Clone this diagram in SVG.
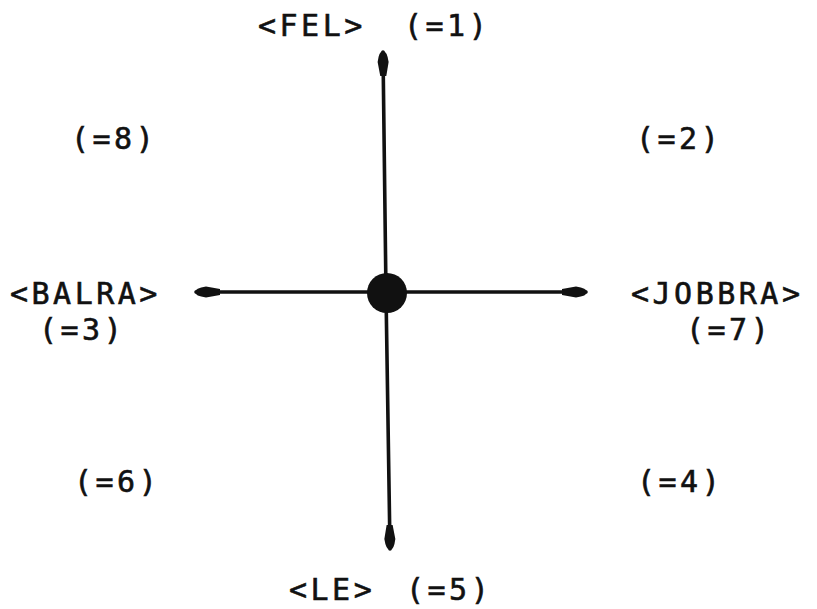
<svg xmlns="http://www.w3.org/2000/svg" width="817" height="609" viewBox="0 0 817 609">
<style>
text{font-family:"DejaVu Sans Mono","Liberation Mono",monospace;font-size:30px;fill:#111;stroke:#111;stroke-width:0.6;letter-spacing:3.5px}
.ax{stroke:#111;stroke-width:3.6;fill:none;stroke-linecap:round}
</style>
<defs>
<marker id="ah" viewBox="0 0 26 14" refX="24" refY="7" markerWidth="26" markerHeight="14" markerUnits="userSpaceOnUse" orient="auto">
<path d="M0,4 L14,1.5 Q25,3 25,7 Q25,11 14,12.5 L0,10 Z" fill="#111"/>
</marker>
</defs>
<g id="connectors">
<line class="ax" x1="386" y1="293" x2="383" y2="52" marker-end="url(#ah)"/>
<line class="ax" x1="386" y1="293" x2="390" y2="549" marker-end="url(#ah)"/>
<line class="ax" x1="386" y1="292" x2="196" y2="292" marker-end="url(#ah)"/>
<line class="ax" x1="386" y1="292" x2="586" y2="292" marker-end="url(#ah)"/>
</g>
<g id="center"><circle cx="387" cy="293" r="20" fill="#111"/></g>
<g id="fel"><text x="258" y="36">&lt;FEL&gt;<tspan x="404">(=1)</tspan></text></g>
<g id="le"><text x="289" y="600">&lt;LE&gt;<tspan x="406">(=5)</tspan></text></g>
<g id="n8"><text x="71" y="149">(=8)</text></g>
<g id="n2"><text x="636" y="149">(=2)</text></g>
<g id="balra"><text x="10" y="304">&lt;BALRA&gt;</text><text x="39" y="340">(=3)</text></g>
<g id="jobbra"><text x="631" y="304">&lt;JOBBRA&gt;</text><text x="686" y="340">(=7)</text></g>
<g id="n6"><text x="74" y="492">(=6)</text></g>
<g id="n4"><text x="637" y="492">(=4)</text></g>
</svg>
